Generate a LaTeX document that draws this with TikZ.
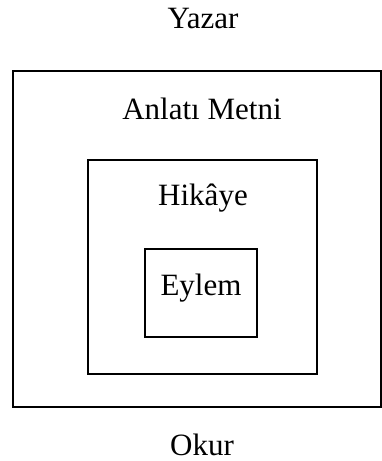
\documentclass[tikz,border=0pt]{standalone}
\usepackage{fontspec}
\setmainfont{Liberation Serif}
\begin{document}
\begin{tikzpicture}[x=1pt,y=-1pt,
  frame/.style={draw=black,line width=2.2pt,inner sep=0pt,outer sep=0pt,fill=none},
  lbl/.style={anchor=base,inner sep=0pt,font=\fontsize{31}{36}\selectfont}]
\useasboundingbox (0,0) rectangle (382,461);
\clip (0,0) rectangle (382,461);
\node[frame,minimum width=368pt,minimum height=336pt] (outer) at (197,239) {};
\node[frame,line width=2pt,minimum width=229pt,minimum height=214pt] (middle) at (202.5,267) {};
\node[frame,line width=2pt,minimum width=112pt,minimum height=88pt] (inner) at (201,293) {};
\node[lbl] (yazar) at (203,28) {Yazar};
\node[lbl] (anlati) at (202,119) {Anlatı Metni};
\node[lbl] (hikaye) at (203,205) {Hikâye};
\node[lbl] (eylem) at (201,295) {Eylem};
\node[lbl] (okur) at (202,455) {Okur};
\end{tikzpicture}
\end{document}
